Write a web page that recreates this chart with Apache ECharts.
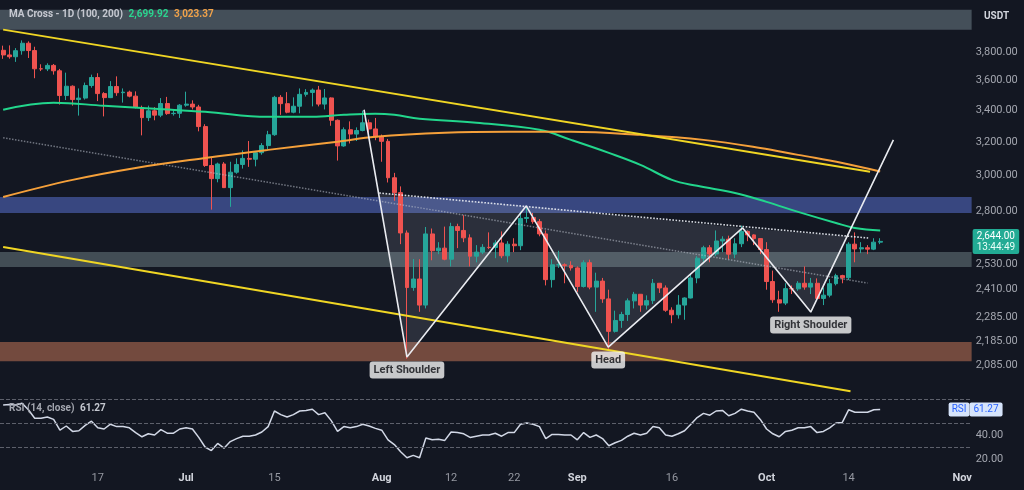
<!DOCTYPE html>
<html><head><meta charset="utf-8">
<script src="https://cdn.jsdelivr.net/npm/echarts@6/dist/echarts.min.js"></script>
<style>html,body{margin:0;padding:0;background:#131722;}#c{width:1024px;height:490px;}</style>
</head><body><div id="c"></div>
<script>
// ---------- data ----------
const startDate = '2024-06-02';
const dayCount = 154; // categories through 2024-11-02
const xTicks = [['2024-06-17','17'],['2024-07-01','Jul'],['2024-07-15','15'],['2024-08-01','Aug'],['2024-08-12','12'],['2024-08-22','22'],['2024-09-01','Sep'],['2024-09-16','16'],['2024-10-01','Oct'],['2024-10-14','14'],['2024-11-01','Nov']];
// daily candles [open, high, low, close], from 2024-06-02
const ohlc = [
[3814,3848,3752,3780],[3780,3850,3753,3767],[3767,3830,3730,3811],[3811,3887,3782,3866],[3866,3880,3758,3812],
[3812,3840,3615,3681],[3681,3713,3665,3680],[3680,3720,3665,3705],[3705,3715,3640,3667],[3667,3680,3437,3497],
[3497,3654,3467,3560],[3560,3566,3430,3470],[3470,3545,3365,3480],[3480,3585,3470,3565],[3565,3640,3550,3620],
[3620,3650,3460,3510],[3510,3520,3360,3483],[3483,3595,3480,3558],[3558,3628,3495,3516],[3516,3545,3450,3520],
[3520,3530,3485,3493],[3493,3525,3412,3418],[3418,3430,3240,3352],[3352,3430,3330,3396],[3396,3420,3335,3368],
[3368,3480,3355,3444],[3444,3488,3370,3378],[3378,3402,3365,3380],[3380,3440,3350,3433],
[3433,3523,3423,3440],[3440,3465,3405,3421],[3421,3435,3265,3295],[3295,3310,3050,3058],[3058,3108,2810,2982],
[2982,3075,2961,3067],[3067,3078,2930,2931],[2931,3080,2825,3019],[3019,3100,3010,3064],[3064,3148,3040,3100],
[3100,3205,3050,3095],[3095,3140,3053,3134],[3134,3192,3122,3177],[3177,3268,3155,3244],[3244,3495,3237,3485],
[3485,3500,3370,3443],[3443,3520,3380,3387],[3387,3485,3380,3426],[3426,3545,3380,3505],[3505,3540,3490,3518],
[3518,3545,3425,3534],[3534,3562,3425,3440],[3440,3541,3405,3481],[3481,3485,3300,3335],[3335,3340,3087,3175],
[3175,3290,3170,3275],[3275,3328,3190,3248],[3248,3290,3205,3270],[3270,3397,3265,3319],[3319,3340,3245,3280],
[3280,3350,3210,3230],
[3230,3245,3080,3203],[3203,3218,2960,2987],[2987,3015,2858,2903],[2903,2938,2630,2687],[2687,2700,2111,2420],
[2420,2556,2405,2460],[2460,2555,2310,2340],[2340,2718,2325,2682],[2682,2710,2550,2597],[2597,2640,2580,2610],
[2610,2720,2550,2555],[2555,2740,2520,2720],[2720,2735,2610,2700],[2700,2780,2640,2662],[2662,2680,2520,2570],
[2570,2625,2540,2590],[2590,2630,2580,2614],[2614,2690,2605,2613],[2613,2650,2560,2636],[2636,2695,2560,2572],
[2572,2645,2540,2630],[2630,2660,2590,2622],[2622,2800,2600,2763],[2763,2820,2740,2768],[2768,2792,2735,2746],
[2746,2760,2670,2682],[2682,2700,2430,2457],[2457,2555,2420,2528],[2528,2597,2513,2528],[2528,2535,2440,2525],
[2525,2545,2500,2513],
[2513,2520,2400,2425],[2425,2550,2420,2538],[2538,2553,2412,2422],[2422,2490,2310,2450],[2450,2465,2350,2368],
[2368,2410,2150,2225],[2225,2315,2220,2272],[2272,2310,2240,2298],[2298,2370,2270,2359],[2359,2400,2325,2389],
[2389,2390,2310,2340],[2340,2384,2320,2360],[2360,2460,2345,2440],[2440,2440,2395,2418],[2418,2430,2310,2317],
[2317,2330,2260,2297],[2297,2385,2280,2340],[2340,2375,2275,2372],[2372,2480,2370,2465],[2465,2570,2440,2560],
[2560,2622,2535,2612],[2612,2625,2540,2581],[2581,2700,2570,2646],[2646,2670,2590,2655],[2655,2673,2555,2580],
[2580,2660,2560,2632],[2632,2725,2615,2695],[2695,2700,2645,2677],[2677,2680,2625,2658],[2658,2660,2580,2603],
[2603,2640,2410,2448],[2448,2500,2350,2364],[2364,2405,2310,2349],[2349,2440,2340,2415],[2415,2430,2390,2414],
[2414,2450,2405,2440],[2440,2520,2410,2422],[2422,2465,2390,2440],[2440,2463,2360,2370],[2370,2420,2340,2385],
[2385,2460,2375,2438],[2438,2485,2430,2476],[2476,2480,2440,2466],[2466,2640,2455,2630],[2630,2690,2540,2606],
[2606,2640,2585,2612],[2612,2625,2580,2605],[2605,2660,2600,2640],[2640,2660,2630,2644]
];
const rsi = [65,65.5,65,66.5,61,54,54,55,53,44,47.5,43,43.5,48,51.5,46,45,49,47,47,
46,42,38.5,41,40,44.5,41.5,41.5,45,46,45,38,30,27,33,29,34.5,37,39,39,
40,42.5,47,60,57,55,57,60,60.5,61.5,57,58.5,52,43,47,46,47,49,47.5,45.5,
44,36,32,26,21,23,21,37.5,36,36.5,35.5,42.5,42,41,38,39,40,40,41.5,39,
42,42,49,50,49,47,37,40.5,40.5,40,40,36,42,38,40,37,31,33.5,35.5,39,
41.5,40,41.5,47,46,40,39,41,43.5,49,54.5,58,56.5,60,60.5,56,58,61.5,60,59,
53,45,41,38.5,43,44,46,46,47,42,43,46,50,50.5,61,59,59,59,61,61.27];
const ma100Idx = [0,8,16,24,32,42,49,54,59,62,66,75,85,90,96,101,106,110,116,121,126,132,135,139];
const ma100 = [3403,3449,3429,3409,3390,3357,3357,3370,3377,3370,3345,3319,3275,3212,3133,3062,2975,2941,2901,2852,2798,2739,2713,2699.92];
const ma200Idx = [0,11,21,32,42,53,59,70,80,90,101,111,120,126,133,139];
const ma200 = [2879,2975,3044,3103,3151,3200,3231,3256,3262,3262,3243,3212,3163,3121,3073,3023.37];
const priceTicks = [3800,3600,3400,3200,3000,2800,2530,2410,2285,2185,2085];
const priceRange = [1977,4200];
const rsiTicks = [20,40];
const rsiLevels = [70,50,30];
const rsiRange = [10,75];
const zones = [[3968,4123],[2792,2879],[2517,2591],[2101,2180]];
const upperChannel = [[0,3968],[137.4,3021]];
const lowerChannel = [[0,2616],[134.3,1984]];
const trendDotted = [[0,3225],[137,2441]];
const neckline = [[59.6,2901],[137.1,2661]];
const patternIdx = [57.2,64,82.9,95.9,117.2,128,141.1];
const patternPrice = [3403,2118,2830,2159,2713,2309,3212];
const patternNames = ['','Left Shoulder','','Head','','Right Shoulder',''];
const necklineCross = [133.8,2670];
const countdown = '13:44:49';
const maTitle = 'MA Cross - 1D (100, 200)';
const rsiTitle = 'RSI (14, close)';

// ---------- build ----------
const L = Math.log;
const fmt = v => Number(v).toLocaleString('en-US',{minimumFractionDigits:2,maximumFractionDigits:2});
const dates = [];
const d0 = new Date(startDate + 'T00:00:00Z');
for (let i = 0; i < dayCount; i++) dates.push(new Date(d0.getTime() + i*86400000).toISOString().slice(0,10));
const tickMap = new Map(xTicks);
const lastClose = ohlc[ohlc.length-1][3];
const lastRsi = rsi[rsi.length-1];
const P = i => [patternIdx[i], patternPrice[i]];
const triangles = [[neckline[0], P(1), P(2)], [P(2), P(3), P(4)], [P(4), P(5), necklineCross]];
const zoneColors = ['rgba(110,125,135,0.55)','rgba(70,88,160,0.75)','rgba(105,122,128,0.55)','rgba(140,88,70,0.8)'];
const toLine = arr => arr.map(p => [p[0], L(p[1])]);
const font = 'Roboto, "Noto Sans", sans-serif';
const gridL = -3.165, gridW = 974.8;

const chart = echarts.init(document.getElementById('c'));
chart.setOption({
  animation:false,
  backgroundColor:'#131722',
  title:[
    {left:4, top:4, text:'{a|'+maTitle+'}  {g|'+fmt(ma100[ma100.length-1])+'}  {o|'+fmt(ma200[ma200.length-1])+'}',
     textStyle:{fontSize:10, rich:{a:{color:'#c5c8d0',fontSize:10,fontFamily:font},g:{color:'#2bd48f',fontSize:10,fontFamily:font},o:{color:'#f0a24a',fontSize:10,fontFamily:font}}}},
    {left:979, top:6, text:'USDT', textStyle:{color:'#d1d4dc', fontSize:10, fontWeight:'bold', fontFamily:font}},
    {left:4, top:398, text:'{a|'+rsiTitle+'}  {v|'+fmt(lastRsi)+'}',
     textStyle:{fontSize:10, rich:{a:{color:'#a3a6af',fontSize:10,fontFamily:font},v:{color:'#c5c8d0',fontSize:10,fontFamily:font}}}}
  ],
  grid:[
    {left:gridL, width:gridW, top:0, height:393},
    {left:gridL, width:gridW, top:393, height:78}
  ],
  xAxis:[
    {type:'category', gridIndex:0, data:dates, show:false},
    {type:'value', gridIndex:0, min:-0.5, max:dayCount-0.5, show:false},
    {type:'category', gridIndex:1, data:dates,
     axisLine:{show:false}, axisTick:{show:false}, splitLine:{show:false},
     axisLabel:{margin:2, interval:(i,v)=>tickMap.has(v),
       formatter:v=>{const t=tickMap.get(v)||''; return /^[A-Z]/.test(t)?'{m|'+t+'}':'{d|'+t+'}';},
       rich:{m:{color:'#d1d4dc',fontSize:11,fontWeight:'bold',fontFamily:font},d:{color:'#9598a1',fontSize:11,fontFamily:font}}}}
  ],
  yAxis:[
    {type:'value', gridIndex:0, position:'right', min:L(priceRange[0]), max:L(priceRange[1]),
     axisLine:{show:false, onZero:false}, axisTick:{show:false}, splitLine:{show:false},
     axisLabel:{customValues:priceTicks.map(L), formatter:v=>fmt(Math.round(Math.exp(v))), color:'#a3a6af', fontSize:11, margin:4, fontFamily:font}},
    {type:'value', gridIndex:1, position:'right', min:rsiRange[0], max:rsiRange[1],
     axisLine:{show:false, onZero:false}, axisTick:{show:false}, splitLine:{show:false},
     axisLabel:{customValues:rsiTicks, formatter:v=>fmt(v), color:'#a3a6af', fontSize:11, margin:4, fontFamily:font}}
  ],
  series:[
    {type:'custom', xAxisIndex:1, yAxisIndex:0, silent:true, z:1,
     encode:{x:[0,2,4], y:[1,3,5]},
     data: triangles.map(t => t.flatMap(p => [p[0], L(p[1])])),
     renderItem:(params, api) => ({type:'polygon',
        shape:{points:[0,1,2].map(k => api.coord([api.value(2*k), api.value(2*k+1)]))},
        style:{fill:'rgba(190,198,215,0.14)'}})},
    {type:'candlestick', xAxisIndex:0, yAxisIndex:0, silent:true, z:3, barWidth:4.4,
     data: ohlc.map(r => [L(r[0]), L(r[3]), L(r[2]), L(r[1])]),
     itemStyle:{color:'#26a69a', color0:'#ef5350', borderColor:'#26a69a', borderColor0:'#ef5350', borderWidth:1},
     markArea:{silent:true, data: zones.map((z,i) => [{yAxis:L(z[0]), itemStyle:{color:zoneColors[i]}},{yAxis:L(z[1])}])},
     markLine:{silent:true, symbol:['none','none'], data:[{yAxis:L(lastClose)}], lineStyle:{color:'transparent', width:0},
       label:{show:true, position:'end', distance:1, formatter:'{p|'+fmt(lastClose)+'}\n{t|'+countdown+'}',
         backgroundColor:'#22ab94', padding:[2,4,1,4], borderRadius:2,
         rich:{p:{color:'#fff',fontSize:10,lineHeight:11,fontFamily:font},t:{color:'#e8fff8',fontSize:10,lineHeight:11,fontFamily:font}}}}},
    {type:'line', xAxisIndex:1, yAxisIndex:0, silent:true, z:4, symbol:'none',
     data: toLine(trendDotted), lineStyle:{color:'rgba(190,195,205,0.55)', width:1.5, type:'dotted'}},
    {type:'line', xAxisIndex:1, yAxisIndex:0, silent:true, z:4, symbol:'none',
     data: toLine(neckline), lineStyle:{color:'rgba(235,238,245,0.9)', width:1.6, type:'dotted'}},
    {type:'line', xAxisIndex:1, yAxisIndex:0, silent:true, z:5, symbol:'none', smooth:0.4,
     data: ma100Idx.map((x,i) => [x, L(ma100[i])]), lineStyle:{color:'#22d68c', width:2}},
    {type:'line', xAxisIndex:1, yAxisIndex:0, silent:true, z:5, symbol:'none', smooth:0.4,
     data: ma200Idx.map((x,i) => [x, L(ma200[i])]), lineStyle:{color:'#f5a03a', width:2}},
    {type:'line', xAxisIndex:1, yAxisIndex:0, silent:true, z:6, symbol:'none',
     data: toLine(upperChannel), lineStyle:{color:'#f0d624', width:2}},
    {type:'line', xAxisIndex:1, yAxisIndex:0, silent:true, z:6, symbol:'none',
     data: toLine(lowerChannel), lineStyle:{color:'#f0d624', width:2}},
    {type:'line', xAxisIndex:1, yAxisIndex:0, silent:true, z:7, symbol:'none',
     data: patternIdx.map((x,i) => [x, L(patternPrice[i])]), lineStyle:{color:'#e9ebf0', width:1.6}},
    {type:'scatter', xAxisIndex:1, yAxisIndex:0, silent:true, z:8, symbolSize:1, itemStyle:{color:'transparent'},
     data: patternIdx.map((x,i) => ({value:[x, L(patternPrice[i])], name:patternNames[i]})).filter(d => d.name),
     label:{show:true, position:'bottom', distance:4, formatter:'{b}', color:'#0b0d12', fontSize:11, fontWeight:'bold',
       backgroundColor:'#f5f5f5', padding:[3,4,3,4], borderRadius:3, fontFamily:font}},
    {type:'line', xAxisIndex:2, yAxisIndex:1, silent:true, symbol:'none', data:rsi,
     lineStyle:{color:'#d2d8e6', width:1.5},
     markLine:{silent:true, symbol:['none','none'],
       data: rsiLevels.map(v => ({yAxis:v, label:{show:false}, lineStyle:{color:'#5d606b', width:1, type:'dashed'}}))
         .concat([{yAxis:lastRsi, lineStyle:{color:'transparent', width:0},
           label:{show:true, position:'end', distance:1, offset:[-24,0],
             formatter:'{a|RSI}{b|'+fmt(lastRsi)+'}',
             rich:{a:{color:'#2962ff',backgroundColor:'#d6e4fb',padding:[2,3],fontSize:10,fontFamily:font,borderRadius:2},
                   b:{color:'#2962ff',backgroundColor:'#d6e4fb',padding:[2,4],fontSize:10,fontFamily:font,borderRadius:2}}}}])}}
  ]
});
</script></body></html>
